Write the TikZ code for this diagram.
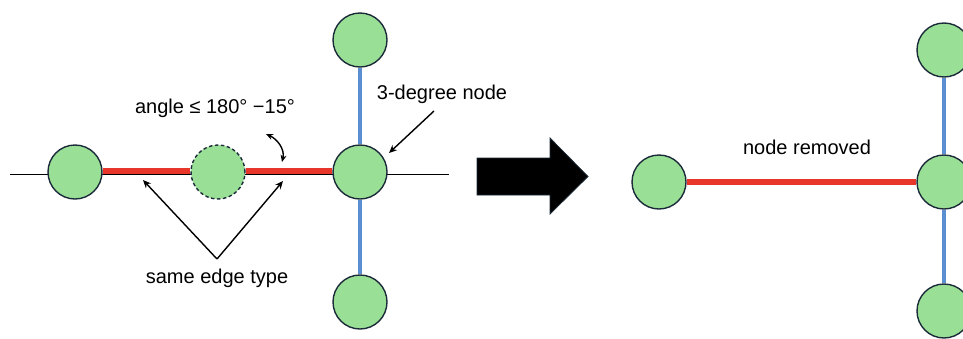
\documentclass[tikz,border=0pt]{standalone}
\usepackage{fontspec}
\setmainfont{Liberation Sans}
\usetikzlibrary{arrows.meta}
\definecolor{nodegreen}{HTML}{9ADF96}
\definecolor{nodeborder}{HTML}{1C2B3A}
\definecolor{edgered}{HTML}{E8372A}
\definecolor{edgeblue}{HTML}{5B8FD4}
\tikzset{
  gnode/.style={circle, fill=nodegreen, draw=nodeborder, line width=1.4pt, minimum size=54pt, inner sep=0pt},
  dnode/.style={gnode, dashed, dash pattern=on 3.5pt off 2.5pt},
  rededge/.style={draw=edgered, line width=5.5pt},
  blueedge/.style={draw=edgeblue, line width=4.5pt},
  thinline/.style={draw=black, line width=1.3pt},
  pointer/.style={draw=black, line width=1.4pt, -{Stealth[length=8pt,width=7pt]}},
  label/.style={font=\fontsize{20}{24}\selectfont, inner sep=0pt}
}
\begin{document}
\begin{tikzpicture}[x=1pt,y=-1pt]
\useasboundingbox (0,0) rectangle (963,338);
\clip (0,0) rectangle (963,338);
% thin black base line
\coordinate (bl) at (10,174.5);
\coordinate (br) at (449,174.5);
\draw[thinline] (bl) -- (br);
% left configuration nodes
\node[gnode] (L) at (75,172) {};
\node[dnode] (D) at (218,172) {};
\node[gnode] (M) at (360,172) {};
\node[gnode] (T) at (360,40) {};
\node[gnode] (B) at (360,302) {};
% edges
\draw[rededge] ([yshift=1pt]L.east) -- ([yshift=1pt]D.west);
\draw[rededge] ([yshift=1pt]D.east) -- ([yshift=1pt]M.west);
\draw[blueedge] (T.south) -- (M.north);
\draw[blueedge] (M.south) -- (B.north);
% labels
\node[label] (angle) at (215,108) {angle ≤ 180° −15°};
\node[label] (deg) at (442,94) {3-degree node};
\node[label] (same) at (217,278) {same edge type};
% pointer arrows
\coordinate (degtail) at (434,111);
\coordinate (degtip) at (389,153);
\draw[pointer] (degtail) -- (degtip);
\coordinate (apex) at (217,259);
\coordinate (tipL) at (143,180);
\coordinate (tipR) at (283,181);
\draw[pointer] (apex) -- (tipL);
\draw[pointer] (apex) -- (tipR);
\coordinate (arcA) at (266,134);
\coordinate (arcB) at (282,162);
\draw[draw=black, line width=1.4pt, {Stealth[length=7pt,width=6pt]}-{Stealth[length=7pt,width=6pt]}] (arcA) .. controls (277,139) and (285,149) .. (arcB);
% big arrow
\draw[fill=black, draw=nodeborder, line width=0.8pt] (477,158) -- (550,158) -- (550,138) -- (588,176.5) -- (550,214) -- (550,195) -- (477,195) -- cycle;
% right configuration
\node[gnode] (L2) at (659,182) {};
\node[gnode] (M2) at (944,182) {};
\node[gnode] (T2) at (944,50) {};
\node[gnode] (B2) at (944,311) {};
\draw[rededge] (L2.east) -- (M2.west);
\draw[blueedge] (T2.south) -- (M2.north);
\draw[blueedge] (M2.south) -- (B2.north);
\node[label] (removed) at (807,147) {node removed};
\end{tikzpicture}
\end{document}
